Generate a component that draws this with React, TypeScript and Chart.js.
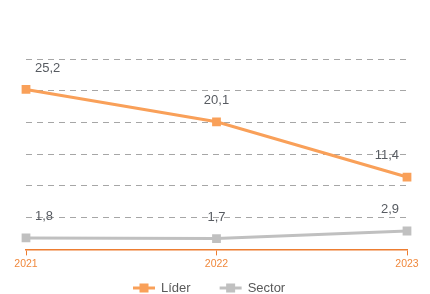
import React, { useEffect, useRef } from "react";
import { Chart, registerables } from "chart.js";

Chart.register(...registerables);

const categories = ["2021", "2022", "2023"];
const liderValues = [25.2, 20.1, 11.4];
const sectorValues = [1.8, 1.7, 2.9];
const seriesNames = ["Líder", "Sector"];
const seriesColors = ["#f9a059", "#c0c0c0"];
const yMin = 0;
const yMax = 30;
const yStep = 5;

const FONT = "'Liberation Sans', Arial, sans-serif";

const fmt = (v: number) => v.toFixed(1).replace(".", ",");

const labelsPlugin = {
  id: "valueLabels",
  afterDatasetsDraw(chart: any) {
    const ctx = chart.ctx;
    ctx.save();
    ctx.font = `13px ${FONT}`;
    ctx.fillStyle = "#575b61";
    ctx.textBaseline = "middle";
    chart.data.datasets.forEach((ds: any, di: number) => {
      const meta = chart.getDatasetMeta(di);
      meta.data.forEach((pt: any, i: number) => {
        const txt = fmt(ds.data[i]);
        const n = meta.data.length;
        let x = pt.x;
        if (i === 0) {
          ctx.textAlign = "left";
          x = pt.x + 9;
        } else if (i === n - 1) {
          ctx.textAlign = "right";
          x = pt.x - 8;
        } else {
          ctx.textAlign = "center";
        }
        ctx.fillText(txt, x, pt.y - 21.5);
      });
    });
    ctx.restore();
  },
};

const legendPlugin = {
  id: "customLegend",
  afterDraw(chart: any) {
    const ctx = chart.ctx;
    ctx.save();
    ctx.font = `13px ${FONT}`;
    ctx.textBaseline = "middle";
    ctx.textAlign = "left";
    const y = 288;
    let x = 133;
    seriesNames.forEach((name, i) => {
      ctx.strokeStyle = seriesColors[i];
      ctx.lineWidth = 3;
      ctx.beginPath();
      ctx.moveTo(x, y);
      ctx.lineTo(x + 22, y);
      ctx.stroke();
      ctx.fillStyle = seriesColors[i];
      ctx.fillRect(x + 11 - 4.5, y - 4.5, 9, 9);
      ctx.fillStyle = "#595959";
      ctx.fillText(name, x + 28, y);
      const w = ctx.measureText(name).width;
      x += 28 + w + 29;
    });
    ctx.restore();
  },
};

export default function App() {
  const ref = useRef<HTMLCanvasElement | null>(null);
  useEffect(() => {
    if (!ref.current) return;
    const chart = new Chart(ref.current, {
      type: "line",
      data: {
        labels: categories,
        datasets: [
          {
            label: seriesNames[0],
            data: liderValues,
            borderColor: seriesColors[0],
            backgroundColor: seriesColors[0],
            borderWidth: 3,
            pointStyle: "rect",
            pointRadius: 6.2,
            pointHoverRadius: 6.2,
            pointBorderWidth: 0,
            tension: 0,
          },
          {
            label: seriesNames[1],
            data: sectorValues,
            borderColor: seriesColors[1],
            backgroundColor: seriesColors[1],
            borderWidth: 3,
            pointStyle: "rect",
            pointRadius: 6.2,
            pointHoverRadius: 6.2,
            pointBorderWidth: 0,
            tension: 0,
          },
        ],
      },
      options: {
        animation: false,
        responsive: false,
        maintainAspectRatio: false,
        layout: { padding: { left: 26, right: 23, top: 59, bottom: 22 } },
        plugins: {
          legend: { display: false },
          tooltip: { enabled: false },
          title: { display: false },
        },
        scales: {
          x: {
            offset: false,
            grid: {
              display: true,
              drawOnChartArea: false,
              drawTicks: true,
              tickLength: 6,
              color: "#ed7d31",
            },
            border: { display: true, color: "#ed7d31", width: 1.5 },
            ticks: {
              color: "#f0883c",
              font: { family: FONT, size: 10.5 },
              padding: 2,
              maxRotation: 0,
            },
          },
          y: {
            min: yMin,
            max: yMax,
            ticks: { display: false, stepSize: yStep },
            border: { display: false, dash: [6, 5] },
            grid: {
              drawTicks: false,
              color: (c: any) => (c.tick && c.tick.value === 0 ? "rgba(0,0,0,0)" : "#a6a6a6"),
              lineWidth: 1,
            },
          },
        },
      },
      plugins: [labelsPlugin, legendPlugin],
    });
    return () => chart.destroy();
  }, []);
  return (
    <div style={{ position: "absolute", left: 0, top: 0, width: 430, height: 294, background: "#fff" }}>
      <canvas ref={ref} width={430} height={294} style={{ width: 430, height: 294, display: "block" }} />
    </div>
  );
}
